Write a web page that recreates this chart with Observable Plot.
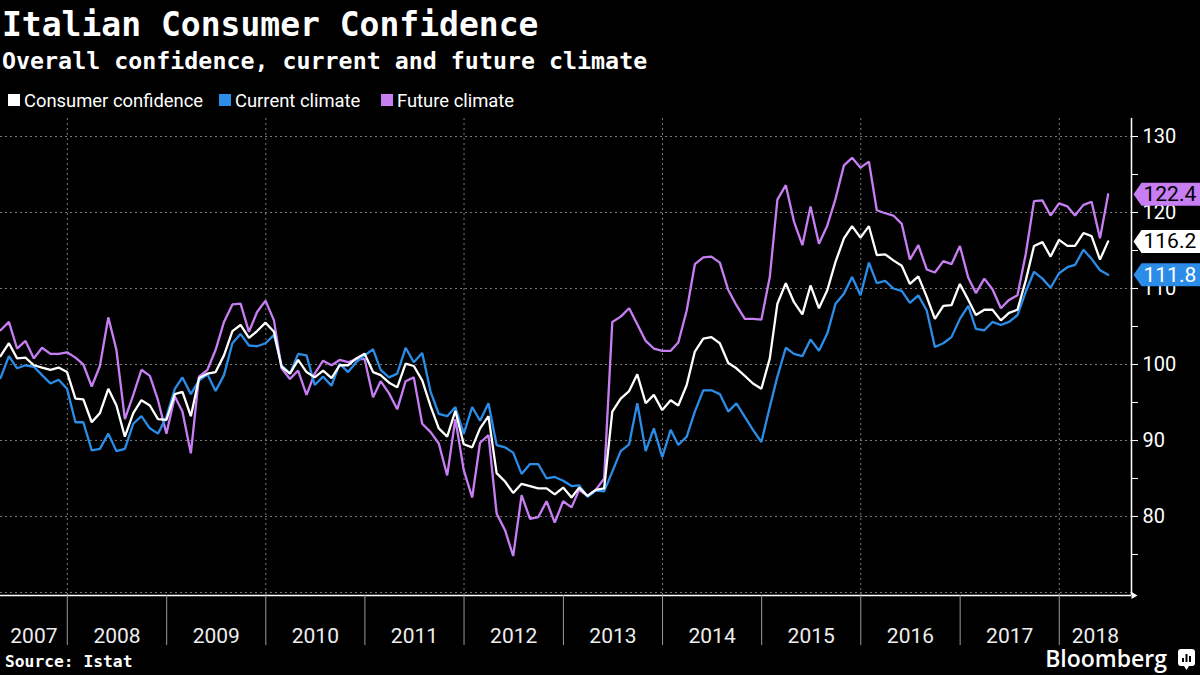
<!DOCTYPE html>
<html>
<head>
<meta charset="utf-8">
<script src="https://cdn.jsdelivr.net/npm/d3@7"></script>
<script src="https://cdn.jsdelivr.net/npm/@observablehq/plot@0.6"></script>
<style>
  html, body { margin: 0; padding: 0; background: #000; width: 1200px; height: 675px; overflow: hidden; }
  svg { display: block; }
</style>
</head>
<body>
<div id="header"></div>
<div id="chart"></div>
<div id="footer"></div>
<script>
// ---------- texts ----------
const titleText = "Italian Consumer Confidence";
const subtitleText = "Overall confidence, current and future climate";
const sourceText = "Source: Istat";
const brandText = "Bloomberg";

// ---------- series ----------
const seriesNames = ["Consumer confidence", "Current climate", "Future climate"];
const seriesColors = ["#ffffff", "#2b8de8", "#c77ef3"];
const tagTextColors = ["#000000", "#ffffff", "#000000"];

// monthly observations, end of month, Apr 2007 .. Jun 2018
const firstMonth = [2007, 4];   // April 2007
const lastMonth = [2018, 6];    // June 2018

const consumer = [
  101.1, 102.8, 100.8, 100.9, 99.9, 99.6, 99.3, 99.6, 99.0, 95.5,
  95.4, 92.4, 93.6, 96.8, 94.6, 90.5, 93.6, 95.3, 94.6, 92.8,
  92.7, 96.1, 96.4, 93.2, 98.2, 98.8, 99.0, 101.2, 104.4, 105.2,
  103.5, 104.4, 105.5, 104.3, 99.7, 98.8, 100.6, 99.0, 98.3, 99.2,
  98.2, 99.9, 99.9, 100.8, 101.4, 99.0, 98.6, 97.6, 97.0, 100.1,
  99.8, 97.9, 94.5, 91.6, 90.5, 93.9, 89.5, 89.1, 91.6, 93.2,
  85.7, 84.6, 83.1, 84.3, 84.0, 83.7, 83.7, 82.9, 83.8, 82.5,
  83.8, 82.7, 83.5, 83.7, 93.8, 95.5, 96.5, 98.7, 94.9, 96.0,
  94.0, 95.3, 94.6, 97.3, 101.7, 103.4, 103.6, 102.8, 100.2, 99.5,
  98.5, 97.5, 96.8, 100.8, 108.0, 110.7, 108.2, 106.6, 110.4, 107.4,
  109.8, 113.5, 116.6, 118.2, 116.7, 118.2, 114.4, 114.5, 113.7, 113.0,
  110.6, 111.6, 108.9, 106.0, 107.7, 107.8, 110.6, 108.5, 106.5, 107.2,
  107.2, 105.8, 106.8, 107.2, 111.1, 115.6, 116.1, 114.2, 116.4, 115.6,
  115.6, 117.3, 116.9, 113.8, 116.2
];
const current = [
  98.2, 101.1, 99.5, 99.9, 99.7, 98.6, 97.5, 98.0, 96.8, 92.4,
  92.4, 88.7, 88.9, 90.9, 88.6, 88.9, 92.2, 93.2, 91.6, 90.9,
  93.1, 96.8, 98.3, 96.1, 97.9, 98.7, 96.5, 98.6, 102.8, 104.0,
  102.5, 102.4, 102.8, 103.9, 99.9, 98.8, 101.4, 101.2, 97.3, 98.4,
  97.2, 100.1, 99.0, 100.3, 101.2, 102.0, 99.3, 98.3, 98.8, 102.2,
  100.3, 101.5, 96.4, 93.5, 93.2, 94.4, 90.9, 94.4, 92.6, 94.9,
  89.4, 89.1, 88.4, 85.6, 86.9, 86.9, 85.0, 85.2, 84.7, 84.0,
  84.1, 82.6, 83.4, 83.3, 85.9, 88.6, 89.5, 94.9, 88.6, 91.6,
  87.8, 91.4, 89.4, 90.5, 93.8, 96.6, 96.6, 96.1, 93.8, 94.9,
  93.1, 91.4, 89.8, 94.4, 98.4, 102.2, 101.4, 101.1, 103.3, 101.8,
  104.1, 108.0, 109.3, 111.5, 109.1, 113.4, 110.7, 111.0, 110.0, 109.7,
  108.1, 109.1, 107.1, 102.3, 102.8, 103.6, 106.0, 107.7, 104.7, 104.5,
  105.6, 105.2, 105.6, 106.5, 109.6, 112.2, 111.3, 110.1, 112.0, 112.8,
  113.1, 115.1, 113.9, 112.4, 111.8
];
const future = [
  104.5, 105.6, 102.1, 103.1, 100.8, 102.2, 101.4, 101.4, 101.6, 100.9,
  100.0, 97.1, 99.8, 106.2, 101.9, 92.8, 96.0, 99.3, 98.5, 95.3,
  90.9, 95.8, 93.8, 88.3, 98.4, 99.3, 101.9, 105.6, 107.9, 108.0,
  104.3, 106.9, 108.4, 105.8, 99.5, 98.1, 99.2, 96.0, 98.8, 100.5,
  99.9, 100.6, 100.3, 100.7, 100.7, 95.7, 97.8, 96.2, 94.1, 97.8,
  98.3, 92.2, 91.1, 89.6, 85.4, 92.8, 86.1, 82.5, 89.7, 90.7,
  80.4, 78.2, 74.8, 82.8, 79.7, 79.9, 82.0, 79.2, 82.0, 81.2,
  83.5, 82.7, 83.5, 85.0, 105.6, 106.3, 107.4, 105.3, 103.1, 102.1,
  101.8, 101.8, 102.9, 107.1, 113.2, 114.1, 114.2, 113.4, 109.8, 107.8,
  106.0, 106.0, 105.9, 111.5, 121.7, 123.6, 118.8, 115.7, 120.8, 115.9,
  118.3, 121.8, 126.2, 127.2, 125.9, 126.7, 120.3, 119.9, 119.6, 118.5,
  113.8, 115.7, 112.5, 112.1, 113.6, 113.2, 115.6, 111.4, 109.4, 111.3,
  109.9, 107.4, 108.5, 109.1, 114.6, 121.5, 121.6, 119.6, 121.2, 120.8,
  119.6, 121.0, 121.4, 116.6, 122.4
];

// ---------- axes ----------
const yTicks = [80, 90, 100, 110, 120, 130];
const yMinorTicks = [75, 85, 95, 105, 115, 125];
const yGridLines = [70, 80, 90, 100, 110, 120, 130];
const gridYears = [2008, 2010, 2012, 2014, 2016, 2018];
const yearLabels = [2007, 2008, 2009, 2010, 2011, 2012, 2013, 2014, 2015, 2016, 2017, 2018];
const xDomain = [new Date(Date.UTC(2007, 3, 30)), new Date(Date.UTC(2018, 8, 24))];
const yDomain = [69.6, 132.37];

// ---------- build table ----------
const dates = d3.utcMonth
  .range(new Date(Date.UTC(firstMonth[0], firstMonth[1], 1)), new Date(Date.UTC(lastMonth[0], lastMonth[1] + 1, 1)))
  .map(d => d3.utcDay.offset(d, -1)); // last day of each month
const seriesValues = [consumer, current, future];
const rows = [];
seriesValues.forEach((vals, i) => vals.forEach((v, j) => rows.push({date: dates[j], value: v, series: seriesNames[i]})));

const yearStarts = yearLabels.slice(1).map(y => new Date(Date.UTC(y, 0, 1)));
const gridDates = gridYears.map(y => new Date(Date.UTC(y, 0, 1)));
const labelDates = yearLabels.map(y => {
  const a = Math.max(+new Date(Date.UTC(y, 0, 1)), +xDomain[0]);
  const b = Math.min(+new Date(Date.UTC(y + 1, 0, 1)), +xDomain[1]);
  return new Date((a + b) / 2);
});

// ---------- header ----------
const mono = "'DejaVu Sans Mono', 'Liberation Mono', monospace";
const sans = "Roboto, 'Open Sans', sans-serif";
const header = d3.select("#header").append("svg").attr("width", 1200).attr("height", 110);
header.append("text").attr("x", 2).attr("y", 36).attr("fill", "#fff")
  .attr("font-family", mono).attr("font-weight", "bold").attr("font-size", 33).text(titleText);
header.append("text").attr("x", 2).attr("y", 69).attr("fill", "#fff")
  .attr("font-family", mono).attr("font-weight", "bold").attr("font-size", 23.3).text(subtitleText);
const legendX = [8, 219, 381];
seriesNames.forEach((name, i) => {
  header.append("rect").attr("x", legendX[i]).attr("y", 94).attr("width", 12).attr("height", 12).attr("fill", seriesColors[i]);
  header.append("text").attr("x", legendX[i] + 16).attr("y", 107).attr("fill", "#fff")
    .attr("font-family", sans).attr("font-size", 18.4).text(name);
});

// ---------- chart ----------
const tagSymbol = {
  draw(ctx) {
    ctx.moveTo(2, 0); ctx.lineTo(10, -11.5); ctx.lineTo(80, -11.5);
    ctx.lineTo(80, 11.5); ctx.lineTo(10, 11.5); ctx.closePath();
  }
};
const arrowSymbol = {
  draw(ctx) { ctx.moveTo(0, -3.5); ctx.lineTo(6, 0); ctx.lineTo(0, 3.5); ctx.closePath(); }
};
const lastRows = seriesValues.map((vals, i) => ({value: vals[vals.length - 1], i}));
const drawOrder = [2, 1, 0];

const plot = Plot.plot({
  width: 1200, height: 535,
  marginTop: 8, marginBottom: 50, marginLeft: 0, marginRight: 69,
  style: {background: "transparent", color: "#fff", fontFamily: sans, overflow: "visible"},
  x: {type: "utc", domain: xDomain, label: null},
  y: {domain: yDomain, label: null},
  marks: [
    Plot.ruleY(yGridLines, {stroke: "#7a7a7a", strokeDasharray: "2,3", strokeWidth: 1}),
    Plot.ruleX(gridDates, {stroke: "#7a7a7a", strokeDasharray: "2,3", strokeWidth: 1}),
    ...drawOrder.map(i => Plot.line(rows.filter(r => r.series === seriesNames[i]),
      {x: "date", y: "value", stroke: seriesColors[i], strokeWidth: 2.3, strokeLinejoin: "miter"})),
    Plot.ruleY([yDomain[0]], {stroke: "#fff", strokeWidth: 1.5}),
    Plot.ruleX([xDomain[1]], {stroke: "#fff", strokeWidth: 1.5}),
    Plot.dot([yDomain[0]], {y: d => d, frameAnchor: "right", symbol: arrowSymbol, fill: "#fff", r: 4}),
    Plot.axisY(yTicks, {anchor: "right", tickSize: 6, tickPadding: 5, fontSize: 20, label: null, stroke: "#fff", fill: "#fff"}),
    Plot.axisY(yMinorTicks, {anchor: "right", tickSize: 6, tickFormat: () => "", label: null, stroke: "#fff"}),
    Plot.axisX(yearStarts, {anchor: "bottom", tickSize: 50, tickFormat: () => "", label: null, stroke: "#9a9a9a"}),
    Plot.axisX(labelDates, {anchor: "bottom", tickSize: 0, tickPadding: 33, tickFormat: d3.utcFormat("%Y"), fontSize: 21, label: null, fill: "#eee"}),
    ...lastRows.map(d => Plot.dot([d], {y: "value", frameAnchor: "right", symbol: tagSymbol, fill: seriesColors[d.i], r: 10})),
    ...lastRows.map(d => Plot.text([d], {y: "value", frameAnchor: "right", dx: 12, textAnchor: "start",
      text: r => r.value.toFixed(1), fill: tagTextColors[d.i], fontSize: 21}))
  ]
});
document.getElementById("chart").appendChild(plot);

// ---------- footer ----------
const footer = d3.select("#footer").append("svg").attr("width", 1200).attr("height", 30).style("overflow", "visible");
footer.append("text").attr("x", 5).attr("y", 22).attr("fill", "#fff")
  .attr("font-family", mono).attr("font-weight", "bold").attr("font-size", 16.3).text(sourceText);
footer.append("text").attr("x", 1167).attr("y", 22).attr("text-anchor", "end").attr("fill", "#fff")
  .attr("font-family", "'Open Sans', sans-serif").attr("font-weight", 600).attr("font-size", 23).text(brandText);
const icon = footer.append("g").attr("transform", "translate(1178,4)");
icon.append("rect").attr("width", 17).attr("height", 17).attr("rx", 3).attr("fill", "#fff");
icon.append("path").attr("d", "M6,17 L8.5,21 L11,17 Z").attr("fill", "#fff");
[[4, 9, 2], [7.5, 5, 2], [11, 7, 2]].forEach(([x, y, w]) =>
  icon.append("rect").attr("x", x).attr("y", y).attr("width", w).attr("height", 13 - y).attr("fill", "#000"));
</script>
</body>
</html>
